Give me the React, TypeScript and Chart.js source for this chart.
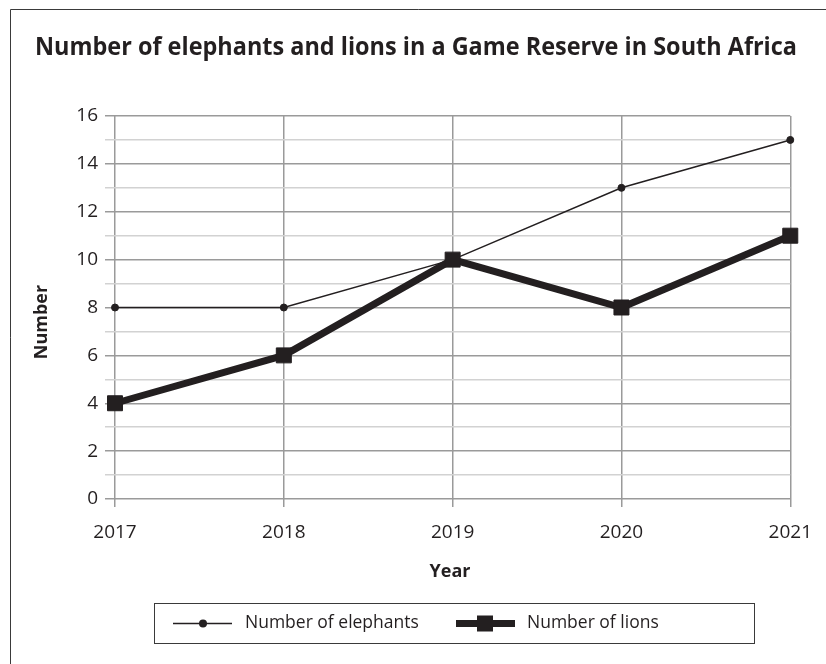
import React, { useEffect, useRef } from 'react';
import { Chart, registerables } from 'chart.js';

Chart.register(...registerables);

const titleText = 'Number of elephants and lions in a Game Reserve in South Africa';
const xTitle = 'Year';
const yTitle = 'Number';
const years = ['2017', '2018', '2019', '2020', '2021'];
const elephants = [8, 8, 10, 13, 15];
const lions = [4, 6, 10, 8, 11];
const seriesNames = ['Number of elephants', 'Number of lions'];
const yMin = 0;
const yMax = 16;
const yStep = 1;
const yLabelStep = 2;

const FONT = "'Open Sans', 'Noto Sans', sans-serif";
const INK = '#231f20';
const MAJOR = '#9a9a9a';
const MINOR = '#d2d2d2';

const decorPlugin = {
  id: 'decor',
  afterDraw(chart: any) {
    const ctx = chart.ctx as CanvasRenderingContext2D;
    ctx.save();
    // outer frame
    ctx.strokeStyle = '#3a3a3a';
    ctx.lineWidth = 1;
    ctx.beginPath();
    ctx.moveTo(10.5, 700);
    ctx.lineTo(10.5, 9.5);
    ctx.lineTo(900, 9.5);
    ctx.stroke();

    ctx.fillStyle = INK;
    // title, condensed to the reference width
    ctx.font = `bold 25px ${FONT}`;
    const w = ctx.measureText(titleText).width;
    const sx = 762 / w;
    ctx.save();
    ctx.translate(35, 55);
    ctx.scale(sx, 1);
    ctx.textAlign = 'left';
    ctx.textBaseline = 'alphabetic';
    ctx.fillText(titleText, 0, 0);
    ctx.restore();

    // x title
    ctx.font = `bold 18px ${FONT}`;
    ctx.textAlign = 'center';
    ctx.textBaseline = 'alphabetic';
    ctx.fillText(xTitle, 450, 577);

    // y title
    ctx.save();
    ctx.translate(47, 322);
    ctx.rotate(-Math.PI / 2);
    ctx.textAlign = 'center';
    ctx.textBaseline = 'alphabetic';
    ctx.font = `bold 18px ${FONT}`;
    ctx.fillText(yTitle, 0, 0);
    ctx.restore();

    // legend box
    ctx.strokeStyle = '#3a3a3a';
    ctx.lineWidth = 1;
    ctx.strokeRect(154.5, 603.5, 600, 40);
    const ly = 623.5;
    const ds = chart.data.datasets;
    // elephants
    ctx.strokeStyle = ds[0].borderColor;
    ctx.lineWidth = ds[0].borderWidth;
    ctx.beginPath();
    ctx.moveTo(173, ly);
    ctx.lineTo(232, ly);
    ctx.stroke();
    ctx.fillStyle = INK;
    ctx.beginPath();
    ctx.arc(203, ly, 4, 0, Math.PI * 2);
    ctx.fill();
    // lions
    ctx.strokeStyle = ds[1].borderColor;
    ctx.lineWidth = ds[1].borderWidth;
    ctx.beginPath();
    ctx.moveTo(456, ly);
    ctx.lineTo(515, ly);
    ctx.stroke();
    ctx.fillRect(477, ly - 8, 16, 16);

    ctx.font = `17.5px ${FONT}`;
    ctx.textAlign = 'left';
    ctx.textBaseline = 'middle';
    ctx.fillText(seriesNames[0], 245, ly);
    ctx.fillText(seriesNames[1], 527, ly);
    ctx.restore();
  },
};

export default function App() {
  const ref = useRef<HTMLCanvasElement>(null);
  useEffect(() => {
    if (!ref.current) return;
    const chart = new Chart(ref.current, {
      type: 'line',
      data: {
        labels: years,
        datasets: [
          {
            label: seriesNames[0],
            data: elephants,
            borderColor: INK,
            backgroundColor: INK,
            borderWidth: 1.5,
            pointStyle: 'circle',
            pointRadius: 3.5,
            pointBorderWidth: 1,
            pointBackgroundColor: INK,
            pointBorderColor: INK,
            tension: 0,
            order: 1,
          },
          {
            label: seriesNames[1],
            data: lions,
            borderColor: INK,
            backgroundColor: INK,
            borderWidth: 7,
            pointStyle: 'rect',
            pointRadius: 10.6,
            pointBorderWidth: 1,
            pointBackgroundColor: INK,
            pointBorderColor: INK,
            tension: 0,
            order: 0,
          },
        ],
      },
      options: {
        responsive: false,
        animation: false,
        layout: { padding: { left: 0, right: 35, top: 116, bottom: 0 } },
        plugins: {
          legend: { display: false },
          title: { display: false },
          tooltip: { enabled: false },
        },
        scales: {
          x: {
            type: 'category',
            offset: false,
            border: { display: false },
            grid: { color: MAJOR, lineWidth: 1.5, tickLength: 8 },
            ticks: {
              color: INK,
              font: { family: FONT, size: 19 },
              padding: 14,
              maxRotation: 0,
              autoSkip: false,
            },
            afterFit: (s: any) => {
              s.height = 165;
            },
          },
          y: {
            min: yMin,
            max: yMax,
            border: { display: false },
            grid: {
              color: (c: any) => (c.tick && c.tick.value % yLabelStep === 0 ? MAJOR : MINOR),
              lineWidth: 1.5,
              tickLength: 10,
            },
            ticks: {
              stepSize: yStep,
              maxTicksLimit: 40,
              autoSkip: false,
              color: INK,
              font: { family: FONT, size: 19 },
              padding: 7,
              callback: (v: any) => (Number(v) % yLabelStep === 0 ? String(v) : ''),
            },
            afterFit: (s: any) => {
              s.width = 115;
            },
          },
        },
      },
      plugins: [decorPlugin],
    });
    return () => chart.destroy();
  }, []);
  return (
    <div style={{ position: 'absolute', left: 0, top: 0, width: 826, height: 664, overflow: 'hidden', background: '#fff' }}>
      <canvas ref={ref} width={826} height={664} style={{ display: 'block' }} />
    </div>
  );
}
